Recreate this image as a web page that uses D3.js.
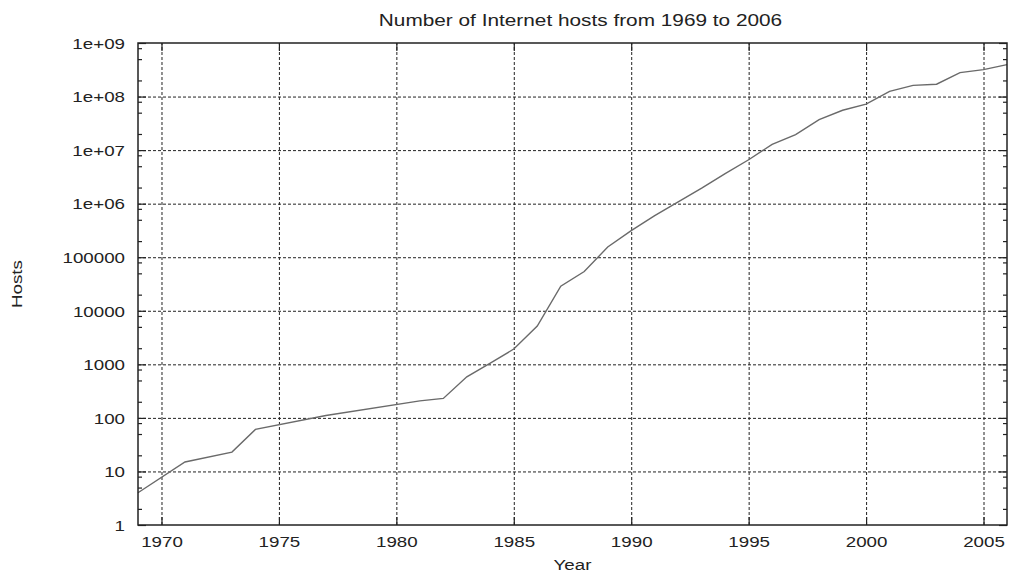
<!DOCTYPE html>
<html lang="en">
  <head>
    <meta charset="UTF-8" />
    <title>Internet hosts</title>
    <style>
      body { margin: 0; background: #fff; }
      svg { display: block; }
      text { font-family: "Liberation Sans", Arial, sans-serif; font-size: 15px; fill: #222; }
      .title { font-size: 16px; }
      .grid line { stroke: #222; stroke-width: 1; stroke-dasharray: 3,2; }
      .grid path { display: none; }
      .ax path { display: none; }
      .ax line { stroke: #222; stroke-width: 1.2; }
    </style>
  </head>
  <body>
    <div class="container"></div>

    <script src="https://d3js.org/d3.v7.min.js"></script>
    <script>
      // data (year, hosts)
      const years = [1969, 1971, 1973, 1974, 1977, 1981, 1982, 1983, 1984, 1985, 1986, 1987,
                     1988, 1989, 1990, 1991, 1992, 1993, 1994, 1995, 1996, 1997, 1998, 1999,
                     2000, 2001, 2002, 2003, 2004, 2005, 2006];
      const hosts = [4, 15, 23, 61, 111, 208, 231, 585, 1050, 1930, 5200, 28800,
                     54000, 155000, 313000, 600000, 1080000, 1950000, 3650000, 6600000, 12800000, 19500000, 37000000, 55500000,
                     72000000, 125000000, 162000000, 170000000, 280000000, 318000000, 394000000];

      const yearTicks = [1970, 1975, 1980, 1985, 1990, 1995, 2000, 2005];
      const hostTicks = [1, 10, 100, 1000, 1e4, 1e5, 1e6, 1e7, 1e8, 1e9];
      const hostTickLabels = ["1", "10", "100", "1000", "10000", "100000", "1e+06", "1e+07", "1e+08", "1e+09"];
      const minorSteps = [2, 5, 8];

      const W = 1011, H = 573;
      const m = { left: 138, right: 4, top: 43, bottom: 48 };
      const w = W - m.left - m.right, h = H - m.top - m.bottom;
      const sx = 1.25; // text is a bit wide in the original

      const svg = d3.select(".container").append("svg")
        .attr("width", W).attr("height", H);
      const g = svg.append("g").attr("transform", "translate(" + m.left + "," + m.top + ")");

      const x = d3.scaleLinear().domain([1969, 2006]).range([0, w]);
      const y = d3.scaleLog().domain([1, 1e9]).range([h, 0]);

      const minor = [];
      hostTicks.slice(0, -1).forEach(d => minorSteps.forEach(s => minor.push(d * s)));

      // grid
      g.append("g").attr("class", "grid")
        .attr("transform", "translate(0," + h + ")")
        .call(d3.axisBottom(x).tickValues(yearTicks).tickSize(-h).tickFormat(""));
      g.append("g").attr("class", "grid")
        .call(d3.axisLeft(y).tickValues(hostTicks.slice(1, -1)).tickSize(-w).tickFormat(""));

      // ticks, inward on all four sides
      const bottom = g.append("g").attr("class", "ax")
        .attr("transform", "translate(0," + h + ")")
        .call(d3.axisBottom(x).tickValues(yearTicks).tickSize(-8).tickPadding(0).tickFormat(d3.format("d")));
      bottom.selectAll("text").attr("y", 11).attr("dy", "0.71em")
        .attr("transform", "scale(" + sx + ",1)");

      g.append("g").attr("class", "ax")
        .call(d3.axisTop(x).tickValues(yearTicks).tickSize(-8).tickFormat(""));

      const left = g.append("g").attr("class", "ax")
        .call(d3.axisLeft(y).tickValues(hostTicks).tickSize(-8)
          .tickFormat((d, i) => hostTickLabels[i]));
      left.selectAll("text").attr("x", -13 / sx).attr("dy", "0.35em")
        .attr("transform", "scale(" + sx + ",1)");
      g.append("g").attr("class", "ax")
        .call(d3.axisLeft(y).tickValues(minor).tickSize(-4).tickFormat(""));

      g.append("g").attr("class", "ax")
        .attr("transform", "translate(" + w + ",0)")
        .call(d3.axisRight(y).tickValues(hostTicks).tickSize(-8).tickFormat(""));
      g.append("g").attr("class", "ax")
        .attr("transform", "translate(" + w + ",0)")
        .call(d3.axisRight(y).tickValues(minor).tickSize(-4).tickFormat(""));

      // the series
      const pts = years.map((d, i) => [d, hosts[i]]);
      g.append("path")
        .datum(pts)
        .attr("fill", "none")
        .attr("stroke", "#6a6a6a")
        .attr("stroke-width", 1.4)
        .attr("d", d3.line().x(d => x(d[0])).y(d => y(d[1])));

      // frame
      g.append("rect")
        .attr("width", w).attr("height", h)
        .attr("fill", "none").attr("stroke", "#222").attr("stroke-width", 1.5);

      // labels
      svg.append("text").attr("class", "title")
        .attr("transform", "translate(" + (m.left + w / 2 + 8) + ",26) scale(1.3,1)")
        .attr("text-anchor", "middle")
        .text("Number of Internet hosts from 1969 to 2006");

      svg.append("text")
        .attr("transform", "translate(" + (m.left + w / 2) + ",570) scale(" + sx + ",1)")
        .attr("text-anchor", "middle")
        .text("Year");

      svg.append("text")
        .attr("transform", "translate(22," + (m.top + h / 2) + ") rotate(-90) scale(" + sx + ",1)")
        .attr("text-anchor", "middle")
        .text("Hosts");
    </script>
  </body>
</html>
